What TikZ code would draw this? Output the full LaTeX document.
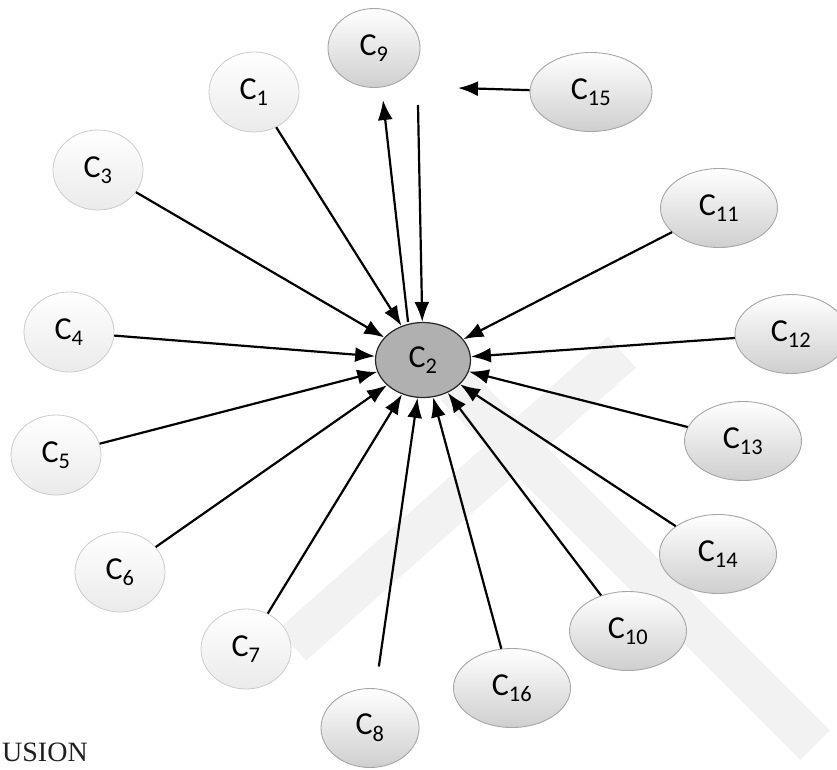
\documentclass[tikz,border=0pt]{standalone}
\usepackage{fontspec}
\setmainfont{Carlito}
\newfontfamily\headfont{Liberation Serif}
\usetikzlibrary{arrows.meta,shapes.geometric}
\newcommand{\cnode}[1]{C\textsubscript{#1}}

\begin{document}
\begin{tikzpicture}[
  x=1pt, y=-1pt,
  font=\fontsize{32}{38}\selectfont,
  pale/.style={ellipse, draw=gray!40, line width=0.8pt, inner sep=0pt,
               top color=white, bottom color=gray!16, minimum width=90, minimum height=80},
  shade/.style={ellipse, draw=gray!70, line width=0.9pt, inner sep=0pt,
               top color=white, bottom color=gray!38, minimum width=117, minimum height=79},
  hub/.style={ellipse, draw=gray!30!black, line width=1.2pt, inner sep=0pt,
              fill=gray!62, minimum width=95, minimum height=75},
  arr/.style={-{Latex[length=20pt,width=15pt]}, line width=2.2pt},
  wmark/.style={line width=42pt, gray!10, line cap=butt}
]
\useasboundingbox (0,0) rectangle (837,769);
% watermark
\draw[wmark] (455,385) -- (815,745);
\draw[wmark] (292,645) -- (622,352);
% nodes
\node[hub] (c2) at (423,360) {\cnode{2}};
\node[pale] (c1) at (254,92) {\cnode{1}};
\node[pale] (c3) at (98,170) {\cnode{3}};
\node[pale] (c4) at (69,332) {\cnode{4}};
\node[pale] (c5) at (56,455) {\cnode{5}};
\node[pale] (c6) at (120,572) {\cnode{6}};
\node[pale] (c7) at (246,649) {\cnode{7}};
\node[shade, minimum width=98] (c8) at (370,728) {\cnode{8}};
\node[shade, minimum width=92] (c9) at (374,48) {\cnode{9}};
\node[shade] (c10) at (628,631) {\cnode{10}};
\node[shade] (c11) at (719,208) {\cnode{11}};
\node[shade, minimum width=112] (c12) at (791,334) {\cnode{12}};
\node[shade] (c13) at (743,441) {\cnode{13}};
\node[shade] (c14) at (718,554) {\cnode{14}};
\node[shade, minimum width=122] (c15) at (591,92) {\cnode{15}};
\node[shade] (c16) at (512,688) {\cnode{16}};
\coordinate (c9in) at (383,100);
\coordinate (c9out) at (418,105);
\coordinate (c15tip) at (458,88);
% connectors
\foreach \n in {1,3,4,5,6,7,10,11,12,13,14,16}
  \draw[arr] (c\n) -- (c2);
\draw[arr, shorten <=22pt] (c8) -- (c2);
\draw[arr] ([xshift=-15pt]c2.north) -- (c9in);
\draw[arr] (c9out) -- (c2);
\draw[arr] (c15) -- (c15tip);
% heading at the lower edge
\node[anchor=base west, inner sep=0pt, text=gray!25!black,
      font=\headfont\fontsize{28}{30}\selectfont] (head) at (2,761) {USION};
\end{tikzpicture}
\end{document}
